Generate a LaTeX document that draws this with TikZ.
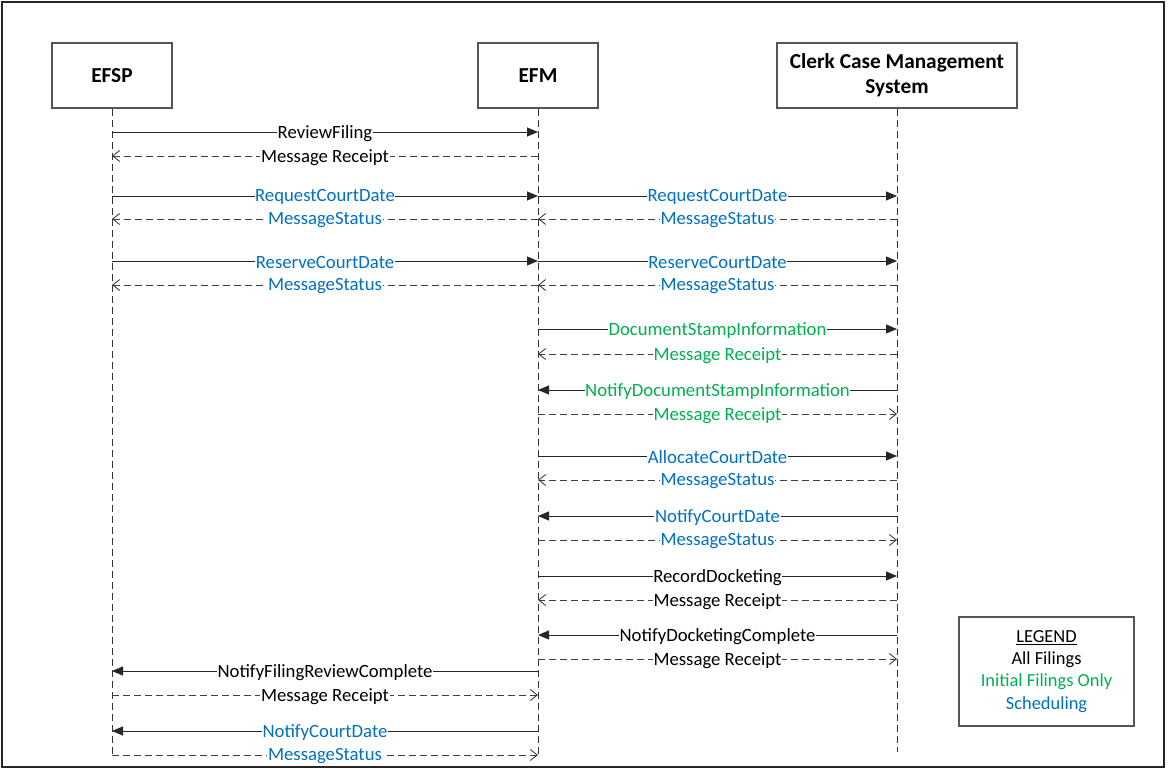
\documentclass[tikz,border=0pt]{standalone}
\usepackage{fontspec}
\setmainfont{Carlito}
\usetikzlibrary{arrows.meta}
\definecolor{grn}{HTML}{00B050}
\definecolor{blu}{HTML}{0070C0}
\definecolor{frame}{HTML}{555555}
\tikzset{
  actor/.style={draw=frame, line width=1.2bp, fill=white, minimum height=65bp, align=center, font=\fontsize{21.4}{25}\selectfont\bfseries},
  lifeline/.style={draw=black!80, line width=0.8bp, dash pattern=on 7bp off 4bp},
  call/.style={draw=black!85, line width=0.9bp, -{Triangle[length=11bp,width=9bp]}},
  reply/.style={draw=black!75, line width=0.9bp, dash pattern=on 7bp off 4bp, -{Straight Barb[length=7bp,width=11bp,line width=0.9bp]}},
  lbl/.style={fill=white, inner sep=0.6bp, yshift=-1.2bp, font=\fontsize{18.8}{22}\selectfont},
  legendbox/.style={draw=frame, line width=1.2bp, minimum width=175bp, minimum height=109bp, align=center, font=\fontsize{18.5}{22.5}\selectfont}
}
\begin{document}
\begin{tikzpicture}[x=1bp,y=-1bp]
\useasboundingbox (0,0) rectangle (1168,776);
\draw[draw=black!85, line width=1.2bp] (2,2) rectangle (1164,767);

\node[actor, minimum width=120bp] (efsp) at (112,75.5) {EFSP};
\node[actor, minimum width=120bp] (efm) at (538,75.5) {EFM};
\node[actor, minimum width=240bp] (ccms) at (897,75.5) {\raisebox{-2bp}{Clerk Case Management}\\\raisebox{-2bp}{System}};

\coordinate (efspEnd) at (112,757);
\coordinate (efmEnd) at (538,757);
\coordinate (ccmsEnd) at (897,752);
\draw[lifeline] (efsp.south) -- (efspEnd);
\draw[lifeline] (efm.south) -- (efmEnd);
\draw[lifeline] (ccms.south) -- (ccmsEnd);

\foreach \y in {132,156,196,219,261,285,329,354,390,414,456,480,516,540,576,600,635,659,671,695,731,755}{
  \coordinate (S\y) at (112,\y);
  \coordinate (M\y) at (538,\y);
  \coordinate (C\y) at (897,\y);
}

% EFSP <-> EFM
\draw[call] (S132) -- node[lbl] {ReviewFiling} (M132);
\draw[reply] (M156) -- node[lbl] {Message Receipt} (S156);
\draw[call] (S196) -- node[lbl, text=blu] {RequestCourtDate} (M196);
\draw[call] (M196) -- node[lbl, text=blu] {RequestCourtDate} (C196);
\draw[reply] (M219) -- node[lbl, text=blu] {MessageStatus} (S219);
\draw[reply] (C219) -- node[lbl, text=blu] {MessageStatus} (M219);
\draw[call] (S261) -- node[lbl, text=blu] {ReserveCourtDate} (M261);
\draw[call] (M261) -- node[lbl, text=blu] {ReserveCourtDate} (C261);
\draw[reply] (M285) -- node[lbl, text=blu] {MessageStatus} (S285);
\draw[reply] (C285) -- node[lbl, text=blu] {MessageStatus} (M285);

% EFM <-> CCMS
\draw[call] (M329) -- node[lbl, text=grn] {DocumentStampInformation} (C329);
\draw[reply] (C354) -- node[lbl, text=grn] {Message Receipt} (M354);
\draw[call] (C390) -- node[lbl, text=grn] {NotifyDocumentStampInformation} (M390);
\draw[reply] (M414) -- node[lbl, text=grn] {Message Receipt} (C414);
\draw[call] (M456) -- node[lbl, text=blu] {AllocateCourtDate} (C456);
\draw[reply] (C480) -- node[lbl, text=blu] {MessageStatus} (M480);
\draw[call] (C516) -- node[lbl, text=blu] {NotifyCourtDate} (M516);
\draw[reply] (M540) -- node[lbl, text=blu] {MessageStatus} (C540);
\draw[call] (M576) -- node[lbl] {RecordDocketing} (C576);
\draw[reply] (C600) -- node[lbl] {Message Receipt} (M600);
\draw[call] (C635) -- node[lbl] {NotifyDocketingComplete} (M635);
\draw[reply] (M659) -- node[lbl] {Message Receipt} (C659);

% EFM -> EFSP
\draw[call] (M671) -- node[lbl] {NotifyFilingReviewComplete} (S671);
\draw[reply] (S695) -- node[lbl] {Message Receipt} (M695);
\draw[call] (M731) -- node[lbl, text=blu] {NotifyCourtDate} (S731);
\draw[reply] (S755) -- node[lbl, text=blu] {MessageStatus} (M755);

\node[legendbox] (legend) at (1046.5,671.5) {\raisebox{1.5bp}{\underline{LEGEND}}\\[-0.5bp]\raisebox{1.5bp}{All Filings}\\\raisebox{1.5bp}{\textcolor{grn}{Initial Filings Only}}\\\raisebox{1.5bp}{\textcolor{blu}{Scheduling}}};
\end{tikzpicture}
\end{document}
